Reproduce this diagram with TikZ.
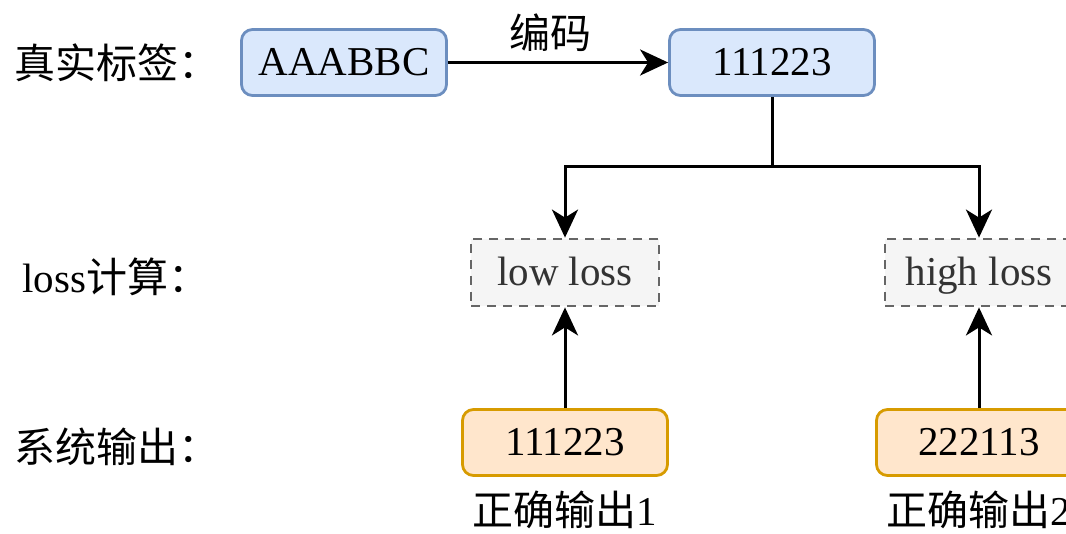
\documentclass[tikz,border=0pt]{standalone}
\usepackage{fontspec}
\setmainfont{Liberation Serif}
\newfontfamily\cjk{Noto Sans CJK SC}
\usetikzlibrary{arrows.meta}
\definecolor{blueFill}{HTML}{DAE8FC}
\definecolor{blueLine}{HTML}{6C8EBF}
\definecolor{orFill}{HTML}{FFE6CC}
\definecolor{orLine}{HTML}{D79B00}
\definecolor{grFill}{HTML}{F5F5F5}
\definecolor{grLine}{HTML}{666666}
\definecolor{grText}{HTML}{333333}
\newcommand{\bigfont}{\fontsize{41}{48}\selectfont}
\begin{document}
\begin{tikzpicture}[x=1pt,y=-1pt,
  boxbase/.style={rounded corners=11pt, line width=2.8pt, minimum width=205pt, minimum height=66pt, inner sep=0pt, font=\bigfont},
  bluebox/.style={boxbase, draw=blueLine, fill=blueFill},
  orbox/.style={boxbase, draw=orLine, fill=orFill},
  greybox/.style={draw=grLine, fill=grFill, line width=2.8pt, dash pattern=on 9pt off 7pt, minimum width=188pt, minimum height=67pt, inner sep=0pt, font=\bigfont, text=grText, text height=27pt, text depth=0pt},
  lbl/.style={font=\bigfont, inner sep=0pt},
  arr/.style={line width=3pt, -{Stealth[length=28pt,width=26pt,inset=8pt]}},
  ln/.style={line width=3pt}
]
\useasboundingbox (0,0) rectangle (1066,534);
\node[bluebox] (src) at (344,62.5) {AAABBC};
\node[bluebox] (enc) at (772,62.5) {111223};
\node[greybox] (low) at (565,272.5) {low loss};
\node[greybox] (high) at (979,272.5) {high loss};
\node[orbox] (o1) at (565,442.5) {111223};
\node[orbox] (o2) at (979,442.5) {222113};
\node[lbl] (n1) at (565,510) {{\cjk 正确输出}1};
\node[lbl] (n2) at (979,510) {{\cjk 正确输出}2};
\node[lbl, anchor=west] (l1) at (14,63) {\cjk 真实标签：};
\node[lbl, anchor=west] (l2) at (22,277) {loss{\cjk 计算：}};
\node[lbl, anchor=west] (l3) at (14,447) {\cjk 系统输出：};
\node[lbl] (code) at (550,33) {\cjk 编码};
\coordinate (split) at (772,167);
\draw[arr] (src) -- (enc);
\draw[arr] (enc.south) -- (split) -| (low.north);
\draw[arr] (split) -| (high.north);
\draw[arr] (o1) -- (low);
\draw[arr] (o2) -- (high);
\end{tikzpicture}
\end{document}
